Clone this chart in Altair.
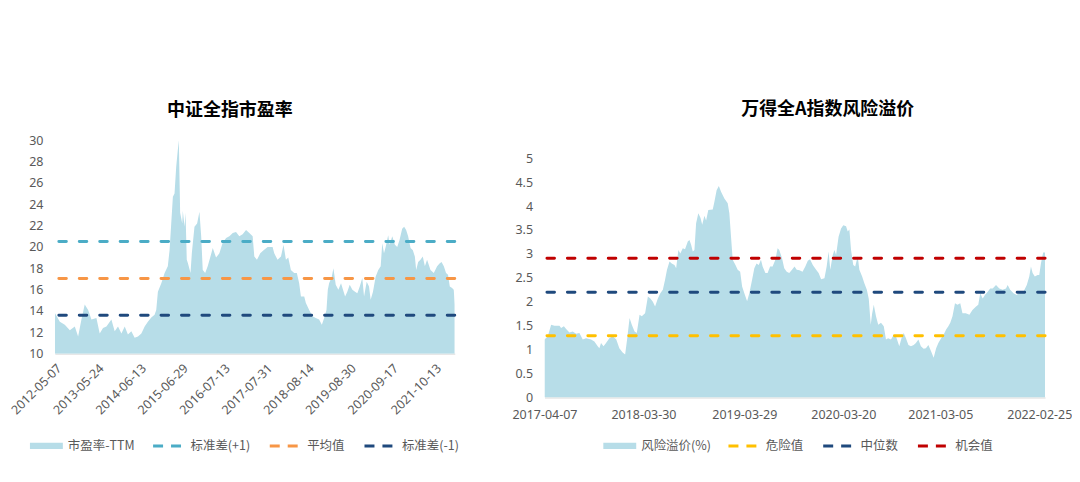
import altair as alt
import pandas as pd

FONT = "Noto Sans CJK SC"
NUM_FONT = "Noto Sans"
LABEL_COLOR = "#595959"

# ---------------- 中证全指市盈率 ----------------
pe_dates = [
    "2012-05-07", "2012-06-21", "2012-08-05", "2012-09-20", "2012-11-04", "2012-12-04",
    "2013-01-03", "2013-02-02", "2013-03-05", "2013-04-04", "2013-05-19", "2013-06-18",
    "2013-07-18", "2013-08-18", "2013-10-02", "2013-11-01", "2013-12-01", "2014-01-01",
    "2014-01-31", "2014-03-01", "2014-04-01", "2014-05-01", "2014-05-31", "2014-07-01",
    "2014-07-31", "2014-08-29", "2014-09-29", "2014-10-29", "2014-11-13", "2014-11-28",
    "2014-12-29", "2015-01-28", "2015-02-26", "2015-03-14", "2015-03-29", "2015-04-13",
    "2015-04-28", "2015-05-13", "2015-05-28", "2015-06-06", "2015-06-18", "2015-07-07",
    "2015-07-12", "2015-07-28", "2015-08-06", "2015-08-17", "2015-08-27", "2015-09-20",
    "2015-10-02", "2015-10-26", "2015-11-19", "2015-12-10", "2015-12-26", "2016-01-09",
    "2016-01-31", "2016-02-23", "2016-03-19", "2016-04-09", "2016-05-09", "2016-06-08",
    "2016-07-08", "2016-08-08", "2016-09-07", "2016-10-07", "2016-11-06", "2016-12-06",
    "2017-01-05", "2017-02-05", "2017-03-07", "2017-04-06", "2017-04-21", "2017-05-15",
    "2017-06-14", "2017-07-14", "2017-08-20", "2017-10-04", "2017-10-19", "2017-11-18",
    "2017-12-19", "2018-01-11", "2018-02-02", "2018-02-23", "2018-03-19", "2018-04-18",
    "2018-05-12", "2018-06-02", "2018-06-18", "2018-07-18", "2018-08-02", "2018-09-01",
    "2018-10-01", "2018-10-31", "2018-11-30", "2018-12-25", "2019-01-15", "2019-02-05",
    "2019-02-17", "2019-03-01", "2019-03-25", "2019-04-09", "2019-04-30", "2019-05-24",
    "2019-06-17", "2019-07-05", "2019-07-24", "2019-08-13", "2019-09-04", "2019-09-28",
    "2019-10-22", "2019-11-12", "2019-12-04", "2019-12-27", "2020-01-12", "2020-02-05",
    "2020-02-26", "2020-03-12", "2020-04-02", "2020-04-26", "2020-05-20", "2020-06-11",
    "2020-06-25", "2020-07-11", "2020-07-26", "2020-08-18", "2020-08-31", "2020-09-24",
    "2020-10-18", "2020-11-08", "2020-11-29", "2020-12-23", "2021-01-10", "2021-01-28",
    "2021-02-15", "2021-03-09", "2021-03-30", "2021-04-17", "2021-04-29", "2021-05-17",
    "2021-06-07", "2021-06-28", "2021-07-17", "2021-08-06", "2021-09-06", "2021-10-06",
    "2021-11-05", "2021-11-27", "2021-12-15", "2022-01-05", "2022-01-25", "2022-02-12",
    "2022-02-28", "2022-03-21", "2022-04-05", "2022-04-14",
]
pe_values = [
    13.8, 13.0, 12.7, 12.2, 12.55, 11.6,
    13.2, 14.6, 14.1, 13.2, 13.35, 11.9,
    12.4, 12.55, 13.2, 12.1, 12.55, 11.9,
    12.55, 11.8, 12.1, 11.5, 11.6, 11.9,
    12.55, 13.0, 13.4, 13.65, 14.1, 15.8,
    16.6, 17.55, 18.2, 19.7, 22.2, 24.7,
    25.0, 27.5, 29.1, 30.0, 23.2, 22.2,
    23.4, 21.9, 23.2, 18.8, 18.5, 17.55,
    19.4, 21.9, 22.2, 23.3, 21.0, 17.85,
    17.55, 18.2, 19.1, 19.9, 19.0, 19.4,
    20.4, 20.85, 21.0, 21.3, 21.4, 21.0,
    21.2, 21.6, 21.3, 21.0, 19.1, 18.8,
    19.4, 19.7, 20.0, 20.0, 19.4, 18.8,
    19.1, 20.2, 18.8, 19.0, 17.85, 17.55,
    17.55, 16.6, 15.35, 15.35, 14.75, 14.1,
    13.5, 13.35, 13.2, 12.7, 13.35, 14.1,
    16.0, 16.6, 17.2, 18.0, 16.45, 16.0,
    16.6, 16.0, 15.35, 15.8, 16.45, 16.0,
    15.8, 15.65, 16.3, 17.1, 15.35, 16.75,
    16.3, 15.05, 15.8, 17.2, 17.85, 18.2,
    20.35, 19.4, 20.0, 21.1, 20.2, 21.0,
    20.2, 20.0, 20.65, 21.7, 21.9, 21.6,
    21.0, 19.9, 19.7, 19.1, 17.85, 18.6,
    18.8, 19.1, 18.2, 18.8, 17.85, 17.55,
    18.2, 18.45, 18.6, 18.2, 17.55, 17.4,
    16.3, 16.15, 16.0, 14.6,
]
pe_series = ["市盈率-TTM", "标准差(+1)", "平均值", "标准差(-1)"]
pe_colors = ["#B7DDE8", "#4BACC6", "#F79646", "#1F497D"]
pe_levels = [20.5, 17.05, 13.6]
pe_ticks = ["2012-05-07", "2013-05-24", "2014-06-13", "2015-06-29", "2016-07-13",
            "2017-07-31", "2018-08-14", "2019-08-30", "2020-09-17", "2021-10-13"]
pe_yticks = [10, 12, 14, 16, 18, 20, 22, 24, 26, 28, 30]

# ---------------- 万得全A指数风险溢价 ----------------
erp_dates = [
    "2017-04-07", "2017-04-19", "2017-05-01", "2017-05-13", "2017-05-31", "2017-06-06",
    "2017-06-16", "2017-06-24", "2017-07-06", "2017-07-18", "2017-07-30", "2017-08-11",
    "2017-08-23", "2017-09-04", "2017-09-22", "2017-10-04", "2017-10-16", "2017-10-22",
    "2017-10-28", "2017-11-06", "2017-11-15", "2017-11-27", "2017-12-09", "2017-12-22",
    "2018-01-02", "2018-01-14", "2018-01-23", "2018-01-30", "2018-02-08", "2018-02-16",
    "2018-02-26", "2018-03-06", "2018-03-16", "2018-03-24", "2018-04-05", "2018-04-15",
    "2018-04-24", "2018-05-03", "2018-05-11", "2018-05-21", "2018-05-30", "2018-06-08",
    "2018-06-16", "2018-06-23", "2018-07-02", "2018-07-10", "2018-07-20", "2018-07-26",
    "2018-08-03", "2018-08-10", "2018-08-19", "2018-08-27", "2018-09-06", "2018-09-12",
    "2018-09-18", "2018-09-24", "2018-09-30", "2018-10-06", "2018-10-14", "2018-10-22",
    "2018-10-28", "2018-11-05", "2018-11-11", "2018-11-19", "2018-12-05", "2018-12-11",
    "2018-12-19", "2018-12-27", "2019-01-04", "2019-01-16", "2019-01-28", "2019-02-03",
    "2019-02-09", "2019-02-15", "2019-02-25", "2019-03-05", "2019-03-14", "2019-03-21",
    "2019-03-29", "2019-04-08", "2019-04-16", "2019-04-26", "2019-05-04", "2019-05-12",
    "2019-05-20", "2019-05-28", "2019-06-03", "2019-06-13", "2019-06-21", "2019-06-30",
    "2019-07-09", "2019-07-19", "2019-07-27", "2019-08-02", "2019-08-12", "2019-08-20",
    "2019-08-29", "2019-09-07", "2019-09-17", "2019-09-26", "2019-10-04", "2019-10-14",
    "2019-10-25", "2019-11-04", "2019-11-13", "2019-11-21", "2019-12-01", "2019-12-13",
    "2019-12-22", "2019-12-31", "2020-01-12", "2020-01-20", "2020-01-27", "2020-02-02",
    "2020-02-11", "2020-02-17", "2020-02-23", "2020-03-03", "2020-03-12", "2020-03-20",
    "2020-03-30", "2020-04-05", "2020-04-11", "2020-04-17", "2020-04-25", "2020-05-02",
    "2020-05-11", "2020-05-17", "2020-05-27", "2020-06-04", "2020-06-13", "2020-06-20",
    "2020-06-27", "2020-07-02", "2020-07-08", "2020-07-16", "2020-07-24", "2020-08-03",
    "2020-08-13", "2020-08-21", "2020-08-29", "2020-09-08", "2020-09-18", "2020-09-26",
    "2020-10-08", "2020-10-16", "2020-10-24", "2020-11-01", "2020-11-10", "2020-11-19",
    "2020-11-29", "2020-12-07", "2020-12-16", "2020-12-25", "2021-01-04", "2021-01-12",
    "2021-01-21", "2021-01-31", "2021-02-09", "2021-02-18", "2021-02-26", "2021-03-08",
    "2021-03-17", "2021-03-26", "2021-04-03", "2021-04-10", "2021-04-18", "2021-04-27",
    "2021-05-06", "2021-05-16", "2021-05-24", "2021-06-05", "2021-06-18", "2021-06-29",
    "2021-07-12", "2021-07-20", "2021-07-27", "2021-08-05", "2021-08-13", "2021-08-23",
    "2021-09-01", "2021-09-10", "2021-09-22", "2021-10-04", "2021-10-16", "2021-10-28",
    "2021-11-03", "2021-11-12", "2021-11-24", "2021-12-06", "2021-12-18", "2021-12-30",
    "2022-01-11", "2022-01-20", "2022-01-26", "2022-02-01", "2022-02-09", "2022-02-19",
    "2022-02-25", "2022-03-03", "2022-03-11", "2022-03-18",
]
erp_values = [
    1.21, 1.28, 1.52, 1.50, 1.50, 1.45,
    1.49, 1.43, 1.36, 1.38, 1.33, 1.35,
    1.21, 1.24, 1.21, 1.17, 1.07, 1.03,
    1.14, 1.07, 1.14, 1.24, 1.28, 1.21,
    1.03, 0.94, 0.90, 1.21, 1.66, 1.52,
    1.38, 1.35, 1.73, 1.70, 1.76, 2.11,
    2.07, 2.00, 1.90, 2.07, 2.18, 2.25,
    2.46, 2.67, 2.84, 2.80, 2.77, 2.70,
    3.08, 3.01, 3.12, 3.10, 3.26, 3.29,
    3.19, 3.05, 3.08, 3.64, 3.85, 3.75,
    3.61, 3.80, 3.70, 3.92, 3.93, 4.09,
    4.33, 4.42, 4.30, 4.16, 4.06, 3.85,
    3.36, 2.88, 2.77, 2.67, 2.63, 2.32,
    2.18, 2.01, 2.18, 2.46, 2.70, 2.80,
    2.77, 2.88, 2.74, 2.60, 2.60, 2.74,
    2.74, 2.88, 3.12, 3.08, 2.91, 2.70,
    2.63, 2.60, 2.67, 2.74, 2.67, 2.66,
    2.63, 2.74, 2.86, 2.89, 2.77, 2.67,
    2.60, 2.47, 2.49, 2.74, 3.05, 2.67,
    2.98, 3.08, 2.98, 3.36, 3.53, 3.60,
    3.58, 3.47, 3.51, 3.08, 2.77, 2.74,
    2.95, 2.67, 2.53, 2.39, 2.25, 2.06,
    1.52, 1.75, 1.94, 1.70, 1.52, 1.56,
    1.49, 1.21, 1.24, 1.21, 1.31, 1.28,
    1.07, 1.24, 1.35, 1.24, 1.10, 1.07,
    1.10, 1.14, 1.21, 1.07, 1.02, 1.03,
    1.10, 0.96, 0.83, 1.03, 1.14, 1.24,
    1.31, 1.42, 1.49, 1.56, 1.70, 1.97,
    1.94, 1.97, 1.76, 1.76, 1.73, 1.83,
    1.90, 1.94, 2.18, 2.07, 2.14, 2.21,
    2.28, 2.28, 2.35, 2.28, 2.25, 2.28,
    2.35, 2.25, 2.18, 2.14, 2.21, 2.21,
    2.35, 2.53, 2.74, 2.60, 2.53, 2.56,
    2.56, 2.80, 3.03, 3.03,
]
erp_series = ["风险溢价(%)", "危险值", "中位数", "机会值"]
erp_colors = ["#B7DDE8", "#FFC000", "#1F497D", "#C00000"]
erp_levels = [1.29, 2.20, 2.91]
erp_ticks = ["2017-04-07", "2018-03-30", "2019-03-29", "2020-03-20", "2021-03-05", "2022-02-25"]
erp_yticks = [0, 0.5, 1, 1.5, 2, 2.5, 3, 3.5, 4, 4.5, 5]


def dt(s):
    y, m, d = s.split("-")
    return alt.DateTime(year=int(y), month=int(m), date=int(d), utc=True)


def panel(dates, values, series, colors, levels, ticks, yticks, ymin, ymax,
          width, height, title, title_dx, title_offset, label_angle, xpad,
          fill_x, rule_x, legend_y, col_pad, yfmt):
    df = pd.DataFrame({"date": dates, "value": values, "series": series[0]})
    ref = pd.DataFrame({"series": series[1:], "value": levels})
    fill_legend = alt.Legend(
        orient="none", legendX=fill_x, legendY=legend_y, title=None,
        symbolType="M-1,-0.19H1V0.19H-1Z", symbolSize=1089, symbolStrokeWidth=0,
        symbolOpacity=1, labelFont=FONT, labelFontSize=12.5, labelColor=LABEL_COLOR,
        labelOffset=5,
    )
    rule_legend = alt.Legend(
        orient="none", legendX=rule_x, legendY=legend_y, title=None,
        direction="horizontal", columns=3, columnPadding=col_pad, gridAlign="each",
        symbolType="stroke", symbolSize=900, symbolStrokeWidth=3, symbolDash=[10, 8],
        symbolOpacity=1, labelFont=FONT, labelFontSize=12.5, labelColor=LABEL_COLOR,
        labelOffset=6,
    )
    xaxis = alt.Axis(
        values=[dt(t) for t in ticks], format="%Y-%m-%d", labelAngle=label_angle,
        grid=False, ticks=False, domain=True, domainColor="#D9D9D9", domainWidth=1,
        labelFont=NUM_FONT, labelFontSize=12.5, labelColor=LABEL_COLOR, labelPadding=xpad,
        title=None, labelOverlap=False, labelFlush=False,
    )
    yaxis = alt.Axis(
        values=yticks, format=yfmt, grid=False, ticks=False, domain=False,
        labelFont=NUM_FONT, labelFontSize=12.5, labelColor=LABEL_COLOR, labelPadding=12,
        title=None, labelOverlap=False,
    )
    yscale = alt.Scale(domain=[ymin, ymax], zero=False, nice=False)
    area = alt.Chart(df).mark_area(opacity=1, clip=True).encode(
        x=alt.X("date:T", axis=xaxis,
                scale=alt.Scale(type="utc", domain=[dt(dates[0]), dt(dates[-1])], nice=False)),
        y=alt.Y("value:Q", axis=yaxis, scale=yscale),
        y2=alt.datum(yticks[0]),
        fill=alt.Fill("series:N", scale=alt.Scale(domain=series[:1], range=colors[:1]),
                      legend=fill_legend),
    )
    rules = alt.Chart(ref).mark_rule(strokeWidth=3, strokeDash=[7.5, 13], strokeCap="round").encode(
        y=alt.Y("value:Q", scale=yscale, axis=yaxis),
        stroke=alt.Stroke("series:N", scale=alt.Scale(domain=series[1:], range=colors[1:]),
                          legend=rule_legend),
    )
    return alt.layer(area, rules).properties(
        width=width, height=height,
        title=alt.TitleParams(text=title, font=FONT, fontSize=18, fontWeight="bold",
                              color="#000000", offset=title_offset, dx=title_dx,
                              anchor="middle", frame="group"),
    )


left = panel(pe_dates, pe_values, pe_series, pe_colors, pe_levels, pe_ticks, pe_yticks,
             10, 30, 401, 214, "中证全指市盈率", -25, 14, -45, 8,
             -25, 97, 290, 13, "d")
right = panel(erp_dates, erp_values, erp_series, erp_colors, erp_levels, erp_ticks, erp_yticks,
              0, 5.375, 502, 258, "万得全A指数风险溢价", 33, 21, 0, 11,
              59, 183, 290, 13, "~g")

chart = alt.hconcat(left, right, spacing=90, bounds="flush").resolve_scale(
    fill="independent", stroke="independent", x="independent", y="independent"
).resolve_legend(fill="independent", stroke="independent").properties(
    padding={"left": 0, "top": 93, "right": 0, "bottom": 0}
).configure_view(stroke=None)

chart.save("out.html", embed_options={"renderer": "svg", "actions": False})
